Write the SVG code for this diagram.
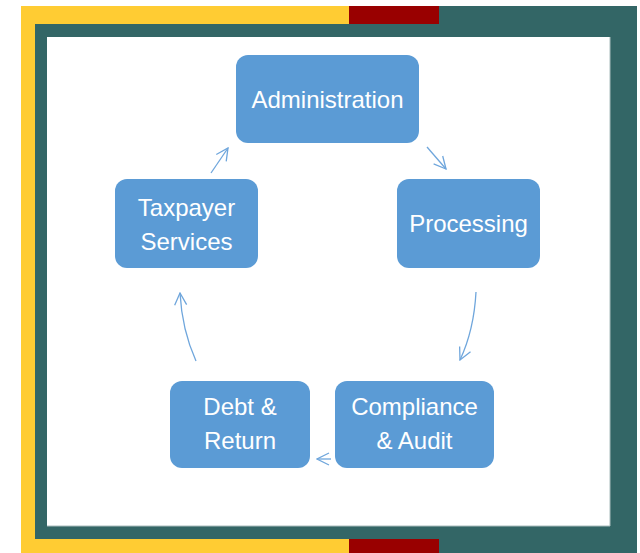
<svg xmlns="http://www.w3.org/2000/svg" width="640" height="553" viewBox="0 0 640 553">
  <defs>
    <style>
      .node { fill: #5b9bd5; }
      .label { font-family: "Liberation Sans", "DejaVu Sans", sans-serif; font-size: 24px; fill: #ffffff; text-anchor: middle; }
      .conn { fill: none; stroke: #6fa6dc; stroke-width: 1.3; }
    </style>
    <marker id="head" viewBox="0 0 14 14" refX="13" refY="7" markerWidth="14" markerHeight="14" markerUnits="userSpaceOnUse" orient="auto">
      <path d="M1,1 L13,7 L1,13" fill="none" stroke="#6fa6dc" stroke-width="1.3"/>
    </marker>
  </defs>

  <!-- frame -->
  <g id="frame">
    <rect x="21" y="6" width="616" height="547" fill="#336666"/>
    <rect x="21" y="6" width="14" height="547" fill="#ffcc33"/>
    <rect x="21" y="6" width="328" height="18" fill="#ffcc33"/>
    <rect x="21" y="539" width="328" height="14" fill="#ffcc33"/>
    <rect x="349" y="6" width="90" height="18" fill="#990000"/>
    <rect x="349" y="539" width="90" height="14" fill="#990000"/>
    <rect x="47" y="37" width="563" height="489" fill="#ffffff"/>
    <path d="M610,37 V526 H47" fill="none" stroke="#a9bcbc" stroke-width="1"/>
  </g>

  <!-- connectors -->
  <g id="connectors">
    <path class="conn" d="M211,173 L228,148" marker-end="url(#head)"/>
    <path class="conn" d="M427,147 L446,169" marker-end="url(#head)"/>
    <path class="conn" d="M476,292 Q474,330 460,360" marker-end="url(#head)"/>
    <path class="conn" d="M331,459 L317,459" marker-end="url(#head)"/>
    <path class="conn" d="M196,361 Q182,330 180,293" marker-end="url(#head)"/>
  </g>

  <g id="administration">
    <rect class="node" x="236" y="55" width="183" height="88" rx="12"/>
    <text class="label" x="327.5" y="107.5">Administration</text>
  </g>
  <g id="processing">
    <rect class="node" x="397" y="179" width="143" height="89" rx="12"/>
    <text class="label" x="468.5" y="231.5">Processing</text>
  </g>
  <g id="compliance">
    <rect class="node" x="335" y="381" width="159" height="87" rx="12"/>
    <text class="label" x="414.5" y="414.5">Compliance</text>
    <text class="label" x="414.5" y="448.5">&amp; Audit</text>
  </g>
  <g id="debt">
    <rect class="node" x="170" y="381" width="140" height="87" rx="12"/>
    <text class="label" x="240" y="414.5">Debt &amp;</text>
    <text class="label" x="240" y="448.5">Return</text>
  </g>
  <g id="taxpayer">
    <rect class="node" x="115" y="179" width="143" height="89" rx="12"/>
    <text class="label" x="186.5" y="215.5">Taxpayer</text>
    <text class="label" x="186.5" y="249.5">Services</text>
  </g>
</svg>
